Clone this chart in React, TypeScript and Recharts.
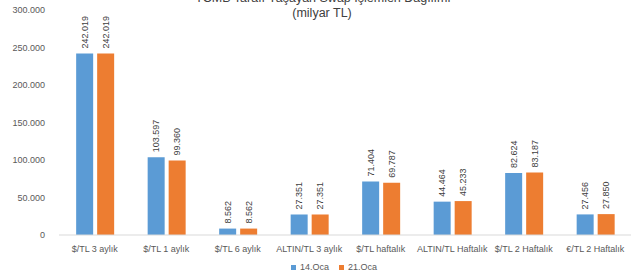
import { Bar, BarChart, LabelList, XAxis, YAxis } from "recharts";

const categories = [
  "$/TL 3 aylık",
  "$/TL 1 aylık",
  "$/TL 6 aylık",
  "ALTIN/TL 3 aylık",
  "$/TL haftalık",
  "ALTIN/TL Haftalık",
  "$/TL 2 Haftalık",
  "€/TL 2 Haftalık",
];
const jan14 = [242019, 103597, 8562, 27351, 71404, 44464, 82624, 27456];
const jan21 = [242019, 99360, 8562, 27351, 69787, 45233, 83187, 27850];
const yTicks = [0, 50000, 100000, 150000, 200000, 250000, 300000];

const BLUE = "#5B9BD5";
const ORANGE = "#ED7D31";
const FONT = "'Liberation Sans', Arial, sans-serif";

const data = categories.map((name, i) => ({
  name,
  a: jan14[i],
  b: jan21[i],
}));

// 242019 -> "242.019"
const fmt = (v: number) =>
  String(Math.round(v)).replace(/\B(?=(\d{3})+(?!\d))/g, ".");

function VerticalLabel(props: any) {
  const { x, y, width, value } = props;
  const cx = Number(x) + Number(width) / 2;
  const top = Number(y) - 5;
  return (
    <text
      x={cx}
      y={top}
      transform={`rotate(-90 ${cx} ${top})`}
      textAnchor="start"
      dominantBaseline="central"
      fontSize={9}
      fill="#404040"
      fontFamily={FONT}
    >
      {fmt(value)}
    </text>
  );
}

export default function App() {
  return (
    <div
      style={{
        position: "absolute",
        left: 0,
        top: 0,
        width: 642,
        height: 280,
        background: "#fff",
        fontFamily: FONT,
        overflow: "hidden",
      }}
    >
      <div
        style={{
          position: "absolute",
          top: -9,
          left: 0,
          width: 644,
          textAlign: "center",
          fontSize: 12.5,
          lineHeight: "15px",
          color: "#404040",
        }}
      >
        <div style={{ transform: "translateX(1px)" }}>
          TCMB Tarafı Yaşayan Swap İşlemleri Dağılımı
        </div>
        <div>(milyar TL)</div>
      </div>
      <BarChart
        width={642}
        height={280}
        data={data}
        margin={{ top: 10, right: 11, bottom: 25, left: 0 }}
        barCategoryGap="24%"
        barGap={4}
      >
        <XAxis
          dataKey="name"
          tickLine={false}
          axisLine={{ stroke: "#D9D9D9" }}
          tick={{ fontSize: 9, fill: "#595959", fontFamily: FONT }}
          tickMargin={5}
          height={20}
          interval={0}
        />
        <YAxis
          width={59}
          domain={[0, 300000]}
          ticks={yTicks}
          tickFormatter={fmt}
          axisLine={false}
          tickLine={false}
          tickMargin={8}
          tick={{ fontSize: 9, fill: "#595959", fontFamily: FONT }}
        />
        <Bar dataKey="a" name="14.Oca" fill={BLUE} isAnimationActive={false}>
          <LabelList dataKey="a" content={VerticalLabel} />
        </Bar>
        <Bar dataKey="b" name="21.Oca" fill={ORANGE} isAnimationActive={false}>
          <LabelList dataKey="b" content={VerticalLabel} />
        </Bar>
      </BarChart>
      <div
        style={{
          position: "absolute",
          top: 262,
          left: 291,
          display: "flex",
          alignItems: "center",
          fontSize: 9,
          color: "#595959",
          gap: 4,
        }}
      >
        <span style={{ width: 5, height: 5, background: BLUE }} />
        <span style={{ marginRight: 6 }}>14.Oca</span>
        <span style={{ width: 5, height: 5, background: ORANGE }} />
        <span>21.Oca</span>
      </div>
    </div>
  );
}
